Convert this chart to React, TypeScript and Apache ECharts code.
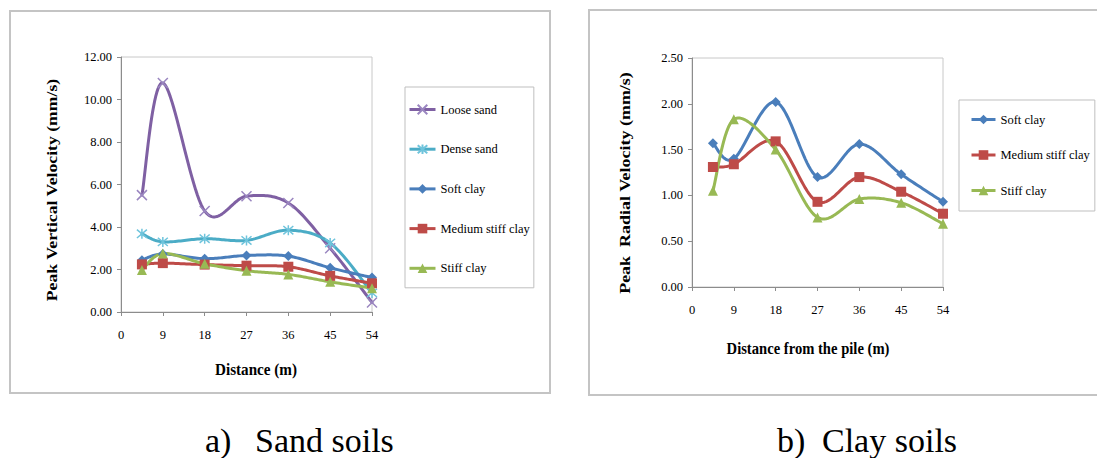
import React, { useEffect, useRef } from "react";
import * as echarts from "echarts";

// ---------- data ----------
const distances = [4.5, 9, 18, 27, 36, 45, 54];

const sandNames = ["Loose sand", "Dense sand", "Soft clay", "Medium stiff clay", "Stiff clay"];
const clayNames = ["Soft clay", "Medium stiff clay", "Stiff clay"];

// a) Peak vertical velocity (mm/s)
const looseSand = [5.5, 10.78, 4.75, 5.45, 5.13, 3.0, 0.45];
const denseSand = [3.68, 3.3, 3.45, 3.37, 3.85, 3.25, 0.9];
const softClayV = [2.44, 2.73, 2.51, 2.66, 2.63, 2.08, 1.62];
const mediumClayV = [2.24, 2.3, 2.23, 2.18, 2.13, 1.7, 1.35];
const stiffClayV = [1.98, 2.75, 2.27, 1.94, 1.77, 1.42, 1.12];

// b) Peak radial velocity (mm/s)
const softClayR = [1.57, 1.4, 2.02, 1.2, 1.56, 1.23, 0.93];
const mediumClayR = [1.31, 1.34, 1.59, 0.93, 1.2, 1.04, 0.8];
const stiffClayR = [1.05, 1.83, 1.5, 0.76, 0.96, 0.92, 0.69];

const FONT = "Liberation Serif";

const X_PATH = "path://M0,0L10,10M10,0L0,10";
const STAR_PATH = "path://M0,0L10,10M10,0L0,10M5,-1L5,11";

const styles: Record<string, any> = {
  "Loose sand": { line: "#7F60A3", marker: "#9A86C0", symbol: X_PATH, size: 10, stroke: 1.5 },
  "Dense sand": { line: "#4BACC6", marker: "#6FC4DC", symbol: STAR_PATH, size: 10, stroke: 1.5 },
  "Soft clay": { line: "#4A7EBB", marker: "#4A7EBB", symbol: "diamond", size: 10, stroke: 0 },
  "Medium stiff clay": { line: "#BE4B48", marker: "#BE4B48", symbol: "rect", size: 10, stroke: 0 },
  "Stiff clay": { line: "#98B954", marker: "#98B954", symbol: "triangle", size: 10, stroke: 0 },
};

// markers (and legend entry) drawn by a line series; the Excel-style smoothed curve by a custom series
function markerSeries(name: string, values: number[], idx: number) {
  const s = styles[name];
  return {
    type: "line",
    name,
    xAxisIndex: idx,
    yAxisIndex: idx,
    data: distances.map((d, i) => [d, values[i]]),
    symbol: s.symbol,
    symbolSize: s.size,
    showSymbol: true,
    lineStyle: { color: s.line, width: 3, opacity: 0 },
    itemStyle: { color: s.marker, borderColor: s.marker, borderWidth: s.stroke },
    emphasis: { disabled: true },
    z: 4,
  };
}

function curveSeries(name: string, values: number[], idx: number) {
  const s = styles[name];
  return {
    type: "custom",
    xAxisIndex: idx,
    yAxisIndex: idx,
    silent: true,
    clip: false,
    z: 3,
    data: distances.map((d, i) => [d, values[i]]),
    encode: { x: 0, y: 1 },
    renderItem: (params: any, api: any) => {
      if (params.dataIndex !== 0) return null;
      const P = distances.map((d, i) => api.coord([d, values[i]]));
      const n = P.length;
      const out: number[][] = [P[0]];
      for (let i = 0; i < n - 1; i++) {
        const p0 = P[Math.max(i - 1, 0)];
        const p1 = P[i];
        const p2 = P[i + 1];
        const p3 = P[Math.min(i + 2, n - 1)];
        const c1 = [p1[0] + (p2[0] - p0[0]) / 6, p1[1] + (p2[1] - p0[1]) / 6];
        const c2 = [p2[0] - (p3[0] - p1[0]) / 6, p2[1] - (p3[1] - p1[1]) / 6];
        const steps = 24;
        for (let k = 1; k <= steps; k++) {
          const t = k / steps;
          const u = 1 - t;
          const x = u * u * u * p1[0] + 3 * u * u * t * c1[0] + 3 * u * t * t * c2[0] + t * t * t * p2[0];
          const y = u * u * u * p1[1] + 3 * u * u * t * c1[1] + 3 * u * t * t * c2[1] + t * t * t * p2[1];
          out.push([x, y]);
        }
      }
      return {
        type: "polyline",
        shape: { points: out },
        style: { stroke: s.line, lineWidth: 3, fill: "none", lineJoin: "round", lineCap: "round" },
      };
    },
  };
}

function axisCommon() {
  return {
    axisLine: { show: true, lineStyle: { color: "#8C8C8C", width: 1 } },
    axisTick: { show: true, length: 4, lineStyle: { color: "#8C8C8C" } },
    splitLine: { show: false },
  };
}

function labelStyle(margin: number) {
  return { margin, fontFamily: FONT, fontSize: 12.5, color: "#000" };
}

function legendItems(names: string[]) {
  return names.map((n) => ({
    name: n,
    lineStyle: { color: styles[n].line, width: 3, opacity: 1 },
  }));
}

function titleText(text: string, x: number, y: number, size: number, opts: any = {}) {
  return {
    type: "text",
    x,
    y,
    rotation: opts.rotation || 0,
    scaleX: opts.scaleX || 1,
    scaleY: opts.scaleY || 1,
    silent: true,
    style: {
      text,
      fill: "#000",
      fontFamily: FONT,
      fontSize: size,
      fontWeight: opts.bold ? "bold" : "normal",
      align: opts.align || "center",
      verticalAlign: "middle",
      textAlign: opts.align || "center",
      textVerticalAlign: "middle",
    },
  };
}

export default function App() {
  const ref = useRef<HTMLDivElement>(null);
  useEffect(() => {
    if (!ref.current) return;
    const chart = echarts.init(ref.current, undefined, { renderer: "svg" });
    const option: any = {
      animation: false,
      backgroundColor: "#fff",
      textStyle: { fontFamily: FONT },
      grid: [
        { left: 121, top: 57, width: 251, height: 255, show: true, borderColor: "#C8C8C8", borderWidth: 1 },
        { left: 692, top: 58, width: 251, height: 229, show: true, borderColor: "#C8C8C8", borderWidth: 1 },
      ],
      xAxis: [
        { type: "value", gridIndex: 0, min: 0, max: 54, interval: 9, ...axisCommon(), axisLabel: labelStyle(16) },
        { type: "value", gridIndex: 1, min: 0, max: 54, interval: 9, ...axisCommon(), axisLabel: labelStyle(16) },
      ],
      yAxis: [
        {
          type: "value", gridIndex: 0, min: 0, max: 12, interval: 2, ...axisCommon(),
          axisLabel: { ...labelStyle(9), formatter: (v: number) => v.toFixed(2) },
        },
        {
          type: "value", gridIndex: 1, min: 0, max: 2.5, interval: 0.5, ...axisCommon(),
          axisLabel: { ...labelStyle(9), formatter: (v: number) => v.toFixed(2) },
        },
      ],
      legend: [
        {
          data: legendItems(sandNames), orient: "vertical", left: 405, top: 87,
          itemWidth: 26, itemHeight: 12, itemGap: 26.7,
          padding: [16, 4, 13, 3],
          borderColor: "#BFBFBF", borderWidth: 1,
          textStyle: { fontFamily: FONT, fontSize: 12.5, color: "#000" },
          selectedMode: false,
        },
        {
          data: legendItems(clayNames), orient: "vertical", left: 959, top: 100,
          itemWidth: 24, itemHeight: 12, itemGap: 22.5,
          padding: [13, 5, 14, 11],
          borderColor: "#BFBFBF", borderWidth: 1,
          textStyle: { fontFamily: FONT, fontSize: 12.5, color: "#000" },
          selectedMode: false,
        },
      ],
      series: [
        curveSeries("Loose sand", looseSand, 0),
        curveSeries("Dense sand", denseSand, 0),
        curveSeries("Soft clay", softClayV, 0),
        curveSeries("Medium stiff clay", mediumClayV, 0),
        curveSeries("Stiff clay", stiffClayV, 0),
        curveSeries("Soft clay", softClayR, 1),
        curveSeries("Medium stiff clay", mediumClayR, 1),
        curveSeries("Stiff clay", stiffClayR, 1),
        markerSeries("Loose sand", looseSand, 0),
        markerSeries("Dense sand", denseSand, 0),
        markerSeries("Soft clay", softClayV, 0),
        markerSeries("Medium stiff clay", mediumClayV, 0),
        markerSeries("Stiff clay", stiffClayV, 0),
        markerSeries("Soft clay", softClayR, 1),
        markerSeries("Medium stiff clay", mediumClayR, 1),
        markerSeries("Stiff clay", stiffClayR, 1),
      ],
      graphic: [
        { type: "rect", silent: true, shape: { x: 10, y: 11, width: 540, height: 382 }, style: { fill: "none", stroke: "#C4C4C4", lineWidth: 2 } },
        { type: "rect", silent: true, shape: { x: 589, y: 10, width: 530, height: 385 }, style: { fill: "none", stroke: "#C4C4C4", lineWidth: 2 } },
        titleText("Peak Vertical Velocity (mm/s)", 52, 190, 15, { bold: true, rotation: Math.PI / 2, scaleX: 1.18 }),
        titleText("Distance (m)", 256, 369, 17, { bold: true, scaleX: 0.89 }),
        titleText("Peak  Radial Velocity (mm/s)", 625, 183, 15, { bold: true, rotation: Math.PI / 2, scaleX: 1.2 }),
        titleText("Distance from the pile (m)", 808, 348, 17, { bold: true, scaleX: 0.86 }),
        titleText("a)", 205, 440, 34, { align: "left" }),
        titleText("Sand soils", 255, 440, 34, { align: "left" }),
        titleText("b)", 777, 440, 34, { align: "left" }),
        titleText("Clay soils", 822, 440, 34, { align: "left" }),
      ],
    };
    chart.setOption(option);
    return () => chart.dispose();
  }, []);
  return (
    <div
      ref={ref}
      style={{ position: "fixed", left: 0, top: 0, width: 1097, height: 458, background: "#fff" }}
    />
  );
}
